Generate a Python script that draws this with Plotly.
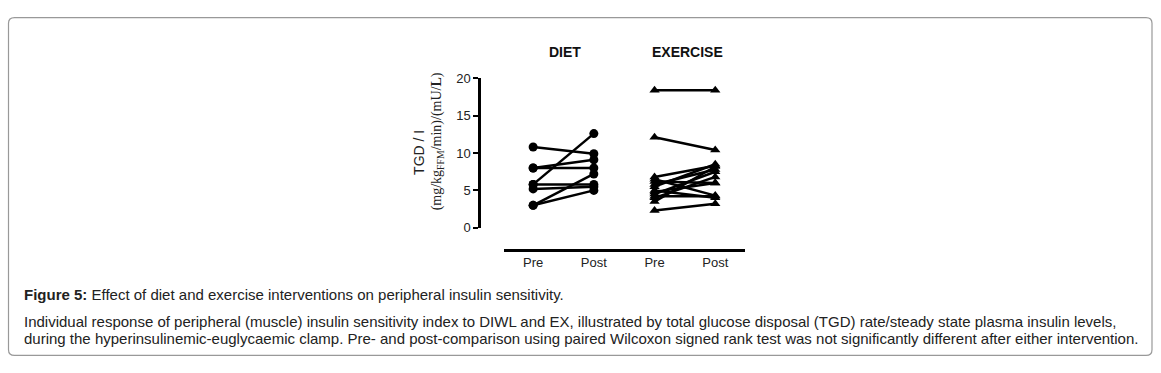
import plotly.graph_objects as go

# ---- data ----
categories = ["Pre", "Post", "Pre", "Post"]
group_titles = ["DIET", "EXERCISE"]
diet_pre = [10.8, 8.0, 8.0, 5.8, 5.8, 5.2, 3.0, 3.0]
diet_post = [9.9, 9.1, 8.0, 12.6, 5.8, 5.5, 7.2, 5.0]
ex_pre = [18.4, 12.1, 6.8, 6.5, 6.2, 5.8, 5.5, 5.0, 4.8, 4.5, 4.2, 4.0, 3.5, 2.3]
ex_post = [18.4, 10.4, 8.3, 4.3, 6.0, 7.8, 8.5, 4.0, 6.0, 7.5, 4.2, 6.8, 8.2, 3.2]
y_ticks = [0, 5, 10, 15, 20]

W, H = 1161, 373
def px(x):
    return x / W
def py(y):
    return 1 - y / H

def paired(pre, post, x0, x1):
    xs, ys = [], []
    for a, b in zip(pre, post):
        xs += [x0, x1, None]
        ys += [a, b, None]
    return xs, ys

fig = go.Figure()
dx, dy = paired(diet_pre, diet_post, 0, 1)
fig.add_trace(go.Scatter(x=dx, y=dy, mode="lines+markers",
                         line=dict(color="black", width=2.5),
                         marker=dict(symbol="circle", size=9, color="black"),
                         cliponaxis=False, showlegend=False))
ex_x, ex_y = paired(ex_pre, ex_post, 2, 3)
fig.add_trace(go.Scatter(x=ex_x, y=ex_y, mode="lines+markers",
                         line=dict(color="black", width=2.5),
                         marker=dict(symbol="triangle-up", size=9, color="black"),
                         cliponaxis=False, showlegend=False))

fig.update_layout(
    width=W, height=H,
    margin=dict(l=0, r=0, t=0, b=0),
    paper_bgcolor="white", plot_bgcolor="white",
    font=dict(family="Liberation Sans, Arial, sans-serif", color="#222", size=13),
    xaxis=dict(domain=[px(504), px(745)], range=[-0.48, 3.49],
               anchor="free", position=py(253),
               tickmode="array", tickvals=[0, 1, 2, 3], ticktext=categories,
               showline=True, linecolor="black", linewidth=2.5,
               ticks="", showgrid=False, zeroline=False,
               tickfont=dict(size=13, color="#222")),
    yaxis=dict(domain=[py(230), py(74.3)], range=[0, 20],
               anchor="free", position=px(479),
               tickmode="array", tickvals=y_ticks,
               showline=True, linecolor="black", linewidth=2.5,
               ticks="outside", ticklen=5, tickwidth=2, tickcolor="black",
               showgrid=False, zeroline=False,
               tickfont=dict(size=13, color="#222")),
)

def note(x, y, text, size, xanchor="center", angle=0, family=None, color="#222"):
    f = dict(size=size, color=color)
    if family:
        f["family"] = family
    return dict(x=px(x), y=py(y), xref="paper", yref="paper", text=text,
                xanchor=xanchor, yanchor="middle", textangle=angle,
                showarrow=False, font=f)

ann = [
    note(565, 47, "<b>" + group_titles[0] + "</b>", 14, color="#111"),
    note(687, 47, "<b>" + group_titles[1] + "</b>", 14, color="#111"),
    note(419, 152, "TGD / I", 14, angle=-90),
    note(437, 140, "(mg/kg<sub>FFM</sub>/min)/(mU/<b>L</b>)", 14, angle=-90,
         family="Liberation Serif, Times New Roman, serif"),
    note(22, 300, "<b>Figure 5:</b> Effect of diet and exercise interventions on peripheral insulin sensitivity.",
         15, xanchor="left"),
    note(22, 328, "Individual response of peripheral (muscle) insulin sensitivity index to DIWL and EX, illustrated by total glucose disposal (TGD) rate/steady state plasma insulin levels,",
         15, xanchor="left"),
    note(22, 345, "during the hyperinsulinemic-euglycaemic clamp. Pre- and post-comparison using paired Wilcoxon signed rank test was not significantly different after either intervention.",
         15, xanchor="left"),
]
fig.update_layout(annotations=ann)

# rounded border box
x0, y0, x1, y1, r = 8.5, 11, 1152, 363, 6
path = (f"M {px(x0+r)},{py(y0)} L {px(x1-r)},{py(y0)} Q {px(x1)},{py(y0)} {px(x1)},{py(y0+r)} "
        f"L {px(x1)},{py(y1-r)} Q {px(x1)},{py(y1)} {px(x1-r)},{py(y1)} "
        f"L {px(x0+r)},{py(y1)} Q {px(x0)},{py(y1)} {px(x0)},{py(y1-r)} "
        f"L {px(x0)},{py(y0+r)} Q {px(x0)},{py(y0)} {px(x0+r)},{py(y0)} Z")
fig.add_shape(type="path", path=path, xref="paper", yref="paper",
              line=dict(color="#999999", width=1.2), layer="below")

fig.write_html("out.html",
               config={"displayModeBar": False},
               post_script="document.body.style.margin='0';document.body.style.overflow='hidden';")
